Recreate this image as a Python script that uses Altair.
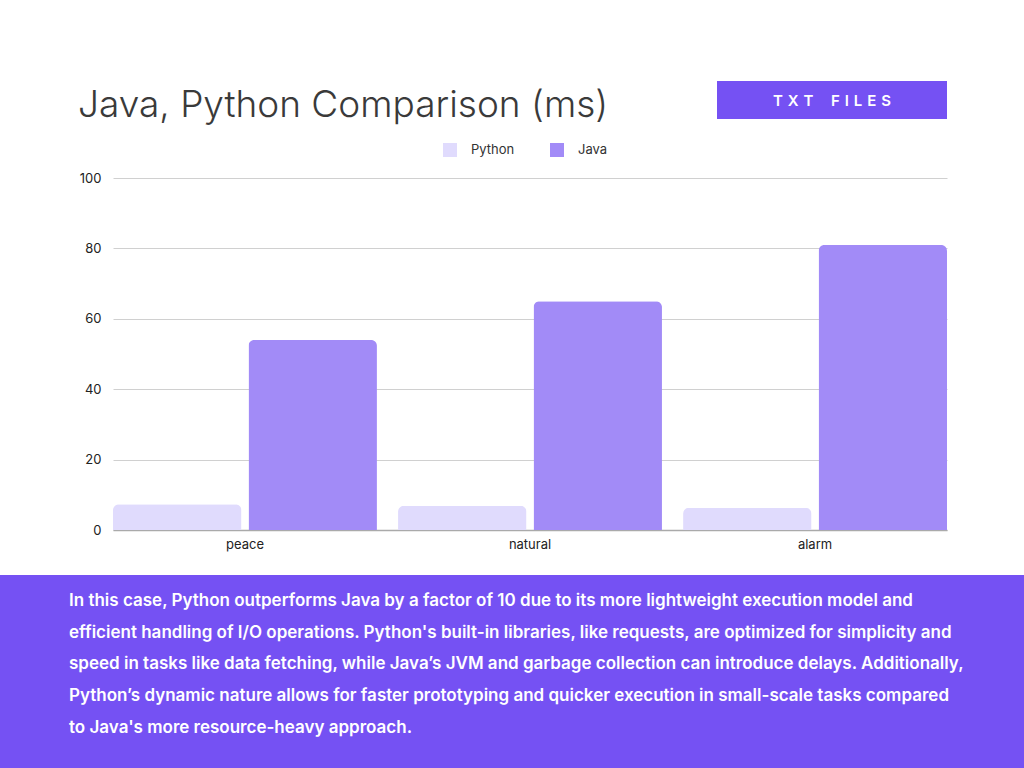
import altair as alt
import pandas as pd

# ---- data ----
categories = ["peace", "natural", "alarm"]
series_names = ["Python", "Java"]
python_ms = [7.3, 6.9, 6.3]
java_ms = [54, 65, 81]
y_ticks = [0, 20, 40, 60, 80, 100]
series_colors = ["#E0DBFD", "#A28BF7"]

title_text = "Java, Python Comparison (ms)"
TS = "\u2009\u2009"
badge_text = TS.join("TXT") + TS + "\u2002" + TS + TS.join("FILES")
body_lines = [
    "In this case, Python outperforms Java by a factor of 10 due to its more lightweight execution model and",
    "efficient handling of I/O operations. Python's built-in libraries, like requests, are optimized for simplicity and",
    "speed in tasks like data fetching, while Java\u2019s JVM and garbage collection can introduce delays. Additionally,",
    "Python\u2019s dynamic nature allows for faster prototyping and quicker execution in small-scale tasks compared",
    "to Java's more resource-heavy approach.",
]

rows = []
for c, p, j in zip(categories, python_ms, java_ms):
    rows.append({"category": c, "series": "Python", "value": p})
    rows.append({"category": c, "series": "Java", "value": j})
df = pd.DataFrame(rows)

PURPLE = "#7551F3"
FONT = "Inter"
W, H = 834, 352
OX, OY = 113, 178  # plot origin on the page

one = pd.DataFrame({"a": [0]})

bars = alt.Chart(df).mark_bar(cornerRadiusTopLeft=6, cornerRadiusTopRight=6).encode(
    x=alt.X(
        "category:N",
        sort=categories,
        title=None,
        scale=alt.Scale(paddingInner=0.074, paddingOuter=0),
        axis=alt.Axis(
            labelAngle=0, domain=True, domainColor="#AAAAAA", domainWidth=1.5,
            ticks=False, labelPadding=8, labelFontSize=13, labelColor="#222222",
            labelFont=FONT, grid=False,
        ),
    ),
    xOffset=alt.XOffset("series:N", sort=series_names, scale=alt.Scale(paddingInner=0.052)),
    y=alt.Y(
        "value:Q",
        title=None,
        scale=alt.Scale(domain=[0, 100]),
        axis=alt.Axis(
            values=y_ticks, domain=False, ticks=False, labelPadding=12,
            labelFontSize=13, labelColor="#222222", labelFont=FONT,
            gridColor="#D0D0D0", gridWidth=1,
        ),
    ),
    color=alt.Color(
        "series:N",
        sort=series_names,
        scale=alt.Scale(domain=series_names, range=series_colors),
        legend=alt.Legend(
            title=None, orient="none", direction="horizontal",
            legendX=330, legendY=-35, symbolType="square", symbolSize=196,
            symbolStrokeWidth=0, labelFontSize=13, labelFont=FONT,
            labelColor="#333333", labelOffset=14, columnPadding=35, padding=0,
        ),
    ),
)

title = alt.Chart(one).mark_text(
    text=title_text, font=FONT, fontSize=37, fontWeight=300, color="#3A3A3A",
    align="left", baseline="alphabetic",
).encode(x=alt.value(78 - OX), y=alt.value(117 - OY))

badge_rect = alt.Chart(one).mark_rect(color=PURPLE).encode(
    x=alt.value(717 - OX), x2=alt.value(947 - OX), y=alt.value(81 - OY), y2=alt.value(119 - OY)
)
badge_label = alt.Chart(one).mark_text(
    text=badge_text, font=FONT, fontSize=15, fontWeight=600, color="white",
    align="center", baseline="middle",
).encode(x=alt.value(832 - OX), y=alt.value(101 - OY))

band = alt.Chart(one).mark_rect(color=PURPLE).encode(
    x=alt.value(-OX), x2=alt.value(1024 - OX), y=alt.value(575 - OY), y2=alt.value(768 - OY)
)
body = alt.Chart(one).mark_text(
    text=body_lines, font=FONT, fontSize=17, fontWeight=600, color="white",
    align="left", baseline="alphabetic", lineHeight=31.7,
).encode(x=alt.value(69 - OX), y=alt.value(606 - OY))

chart = alt.layer(bars, title, badge_rect, badge_label, band, body).properties(
    width=W, height=H,
    background="white",
    autosize=alt.AutoSizeParams(type="none"),
    padding={"left": OX, "top": OY, "right": 1024 - OX - W, "bottom": 768 - OY - H},
).configure_view(strokeWidth=0, stroke="transparent")

chart.save("out.html", embed_options={"renderer": "svg", "actions": False})
